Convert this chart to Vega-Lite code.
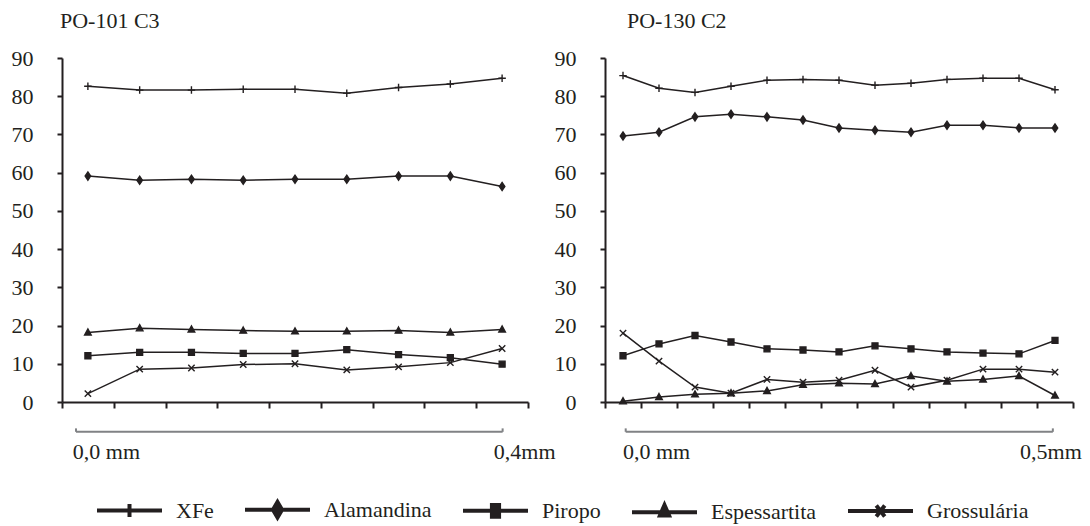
{
  "$schema": "https://vega.github.io/schema/vega-lite/v6.json",
  "background": "white",
  "padding": {"left": 11, "top": 10, "right": 5, "bottom": 0},
  "config": {
    "view": {"stroke": null},
    "font": "Liberation Serif",
    "axis": {"labelFont": "Liberation Serif", "labelFontSize": 22, "labelColor": "#231f20", "domainColor": "#231f20", "domainWidth": 2, "tickColor": "#231f20", "tickWidth": 2, "grid": false, "title": null, "labelOverlap": false},
    "legend": {"labelFont": "Liberation Serif"}
  },
  "datasets": {
    "po101": [
      {"ponto": 1, "serie": "XFe", "valor": 82.6}, {"ponto": 2, "serie": "XFe", "valor": 81.6}, {"ponto": 3, "serie": "XFe", "valor": 81.6}, {"ponto": 4, "serie": "XFe", "valor": 81.8}, {"ponto": 5, "serie": "XFe", "valor": 81.8}, {"ponto": 6, "serie": "XFe", "valor": 80.8}, {"ponto": 7, "serie": "XFe", "valor": 82.3}, {"ponto": 8, "serie": "XFe", "valor": 83.2}, {"ponto": 9, "serie": "XFe", "valor": 84.7},
      {"ponto": 1, "serie": "Alamandina", "valor": 59.1}, {"ponto": 2, "serie": "Alamandina", "valor": 58.0}, {"ponto": 3, "serie": "Alamandina", "valor": 58.3}, {"ponto": 4, "serie": "Alamandina", "valor": 58.0}, {"ponto": 5, "serie": "Alamandina", "valor": 58.3}, {"ponto": 6, "serie": "Alamandina", "valor": 58.3}, {"ponto": 7, "serie": "Alamandina", "valor": 59.1}, {"ponto": 8, "serie": "Alamandina", "valor": 59.1}, {"ponto": 9, "serie": "Alamandina", "valor": 56.4},
      {"ponto": 1, "serie": "Piropo", "valor": 12.1}, {"ponto": 2, "serie": "Piropo", "valor": 13.0}, {"ponto": 3, "serie": "Piropo", "valor": 13.0}, {"ponto": 4, "serie": "Piropo", "valor": 12.7}, {"ponto": 5, "serie": "Piropo", "valor": 12.7}, {"ponto": 6, "serie": "Piropo", "valor": 13.7}, {"ponto": 7, "serie": "Piropo", "valor": 12.4}, {"ponto": 8, "serie": "Piropo", "valor": 11.6}, {"ponto": 9, "serie": "Piropo", "valor": 9.9},
      {"ponto": 1, "serie": "Espessartita", "valor": 18.2}, {"ponto": 2, "serie": "Espessartita", "valor": 19.3}, {"ponto": 3, "serie": "Espessartita", "valor": 19.0}, {"ponto": 4, "serie": "Espessartita", "valor": 18.7}, {"ponto": 5, "serie": "Espessartita", "valor": 18.5}, {"ponto": 6, "serie": "Espessartita", "valor": 18.5}, {"ponto": 7, "serie": "Espessartita", "valor": 18.7}, {"ponto": 8, "serie": "Espessartita", "valor": 18.2}, {"ponto": 9, "serie": "Espessartita", "valor": 19.0},
      {"ponto": 1, "serie": "Grossulária", "valor": 2.2}, {"ponto": 2, "serie": "Grossulária", "valor": 8.6}, {"ponto": 3, "serie": "Grossulária", "valor": 8.9}, {"ponto": 4, "serie": "Grossulária", "valor": 9.8}, {"ponto": 5, "serie": "Grossulária", "valor": 10.0}, {"ponto": 6, "serie": "Grossulária", "valor": 8.4}, {"ponto": 7, "serie": "Grossulária", "valor": 9.2}, {"ponto": 8, "serie": "Grossulária", "valor": 10.3}, {"ponto": 9, "serie": "Grossulária", "valor": 14.0}
    ],
    "po130": [
      {"ponto": 1, "serie": "XFe", "valor": 85.4}, {"ponto": 2, "serie": "XFe", "valor": 82.1}, {"ponto": 3, "serie": "XFe", "valor": 81.0}, {"ponto": 4, "serie": "XFe", "valor": 82.6}, {"ponto": 5, "serie": "XFe", "valor": 84.2}, {"ponto": 6, "serie": "XFe", "valor": 84.4}, {"ponto": 7, "serie": "XFe", "valor": 84.2}, {"ponto": 8, "serie": "XFe", "valor": 82.9}, {"ponto": 9, "serie": "XFe", "valor": 83.4}, {"ponto": 10, "serie": "XFe", "valor": 84.4}, {"ponto": 11, "serie": "XFe", "valor": 84.7}, {"ponto": 12, "serie": "XFe", "valor": 84.7}, {"ponto": 13, "serie": "XFe", "valor": 81.7},
      {"ponto": 1, "serie": "Alamandina", "valor": 69.6}, {"ponto": 2, "serie": "Alamandina", "valor": 70.6}, {"ponto": 3, "serie": "Alamandina", "valor": 74.6}, {"ponto": 4, "serie": "Alamandina", "valor": 75.3}, {"ponto": 5, "serie": "Alamandina", "valor": 74.6}, {"ponto": 6, "serie": "Alamandina", "valor": 73.8}, {"ponto": 7, "serie": "Alamandina", "valor": 71.7}, {"ponto": 8, "serie": "Alamandina", "valor": 71.1}, {"ponto": 9, "serie": "Alamandina", "valor": 70.6}, {"ponto": 10, "serie": "Alamandina", "valor": 72.4}, {"ponto": 11, "serie": "Alamandina", "valor": 72.4}, {"ponto": 12, "serie": "Alamandina", "valor": 71.7}, {"ponto": 13, "serie": "Alamandina", "valor": 71.7},
      {"ponto": 1, "serie": "Piropo", "valor": 12.1}, {"ponto": 2, "serie": "Piropo", "valor": 15.2}, {"ponto": 3, "serie": "Piropo", "valor": 17.4}, {"ponto": 4, "serie": "Piropo", "valor": 15.7}, {"ponto": 5, "serie": "Piropo", "valor": 13.9}, {"ponto": 6, "serie": "Piropo", "valor": 13.6}, {"ponto": 7, "serie": "Piropo", "valor": 13.1}, {"ponto": 8, "serie": "Piropo", "valor": 14.7}, {"ponto": 9, "serie": "Piropo", "valor": 13.9}, {"ponto": 10, "serie": "Piropo", "valor": 13.1}, {"ponto": 11, "serie": "Piropo", "valor": 12.8}, {"ponto": 12, "serie": "Piropo", "valor": 12.6}, {"ponto": 13, "serie": "Piropo", "valor": 16.1},
      {"ponto": 1, "serie": "Espessartita", "valor": 0.2}, {"ponto": 2, "serie": "Espessartita", "valor": 1.3}, {"ponto": 3, "serie": "Espessartita", "valor": 2.0}, {"ponto": 4, "serie": "Espessartita", "valor": 2.3}, {"ponto": 5, "serie": "Espessartita", "valor": 2.9}, {"ponto": 6, "serie": "Espessartita", "valor": 4.5}, {"ponto": 7, "serie": "Espessartita", "valor": 4.9}, {"ponto": 8, "serie": "Espessartita", "valor": 4.7}, {"ponto": 9, "serie": "Espessartita", "valor": 6.8}, {"ponto": 10, "serie": "Espessartita", "valor": 5.4}, {"ponto": 11, "serie": "Espessartita", "valor": 5.9}, {"ponto": 12, "serie": "Espessartita", "valor": 6.8}, {"ponto": 13, "serie": "Espessartita", "valor": 1.7},
      {"ponto": 1, "serie": "Grossulária", "valor": 18.0}, {"ponto": 2, "serie": "Grossulária", "valor": 10.7}, {"ponto": 3, "serie": "Grossulária", "valor": 3.9}, {"ponto": 4, "serie": "Grossulária", "valor": 2.3}, {"ponto": 5, "serie": "Grossulária", "valor": 5.9}, {"ponto": 6, "serie": "Grossulária", "valor": 5.2}, {"ponto": 7, "serie": "Grossulária", "valor": 5.7}, {"ponto": 8, "serie": "Grossulária", "valor": 8.3}, {"ponto": 9, "serie": "Grossulária", "valor": 3.9}, {"ponto": 10, "serie": "Grossulária", "valor": 5.7}, {"ponto": 11, "serie": "Grossulária", "valor": 8.6}, {"ponto": 12, "serie": "Grossulária", "valor": 8.6}, {"ponto": 13, "serie": "Grossulária", "valor": 7.8}
    ]
  },
  "bounds": "flush",
  "spacing": 77,
  "hconcat": [
    {
      "width": 466,
      "height": 344,
      "title": {"text": "PO-101 C3", "anchor": "start", "frame": "group", "dx": -2, "offset": -3, "fontSize": 22, "font": "Liberation Serif", "fontWeight": "normal", "color": "#231f20", "baseline": "alphabetic"},
      "layer": [
        {
          "data": {"name": "po101"},
          "encoding": {
            "x": {"field": "ponto", "type": "quantitative", "scale": {"domain": [0.5, 9.5], "nice": false, "zero": false}, "axis": {"values": [0.5, 1.5, 2.5, 3.5, 4.5, 5.5, 6.5, 7.5, 8.5, 9.5], "labels": false, "tickSize": 6, "title": null, "grid": false}},
            "y": {"field": "valor", "type": "quantitative", "scale": {"domain": [0, 90], "nice": false, "zero": false}, "axis": {"values": [0, 10, 20, 30, 40, 50, 60, 70, 80, 90], "tickSize": 5, "labelPadding": 24, "labelFont": "Liberation Serif", "labelFontSize": 22, "labelOverlap": false, "labelColor": "#231f20", "title": null, "grid": false}}
          },
          "layer": [
            {"mark": {"type": "line", "color": "#231f20", "strokeWidth": 1.5}, "encoding": {"detail": {"field": "serie", "type": "nominal"}}},
            {"transform": [{"filter": {"field": "serie", "equal": "XFe"}}], "mark": {"type": "point", "shape": "M-1,0H1M0,-1V1", "size": 56, "filled": true, "opacity": 1, "fill": "#231f20", "stroke": "#231f20", "strokeWidth": 1.4}},
            {"transform": [{"filter": {"field": "serie", "equal": "Alamandina"}}], "mark": {"type": "point", "shape": "M0,-1.1L0.75,0L0,1.1L-0.75,0Z", "size": 56, "filled": true, "opacity": 1, "fill": "#231f20", "stroke": "#231f20", "strokeWidth": 1.3}},
            {"transform": [{"filter": {"field": "serie", "equal": "Piropo"}}], "mark": {"type": "point", "shape": "M-0.8,-0.8H0.8V0.8H-0.8Z", "size": 56, "filled": true, "opacity": 1, "fill": "#231f20", "stroke": "#231f20", "strokeWidth": 1.3}},
            {"transform": [{"filter": {"field": "serie", "equal": "Espessartita"}}], "mark": {"type": "point", "shape": "M0,-0.95L0.9,0.7H-0.9Z", "size": 56, "filled": true, "opacity": 1, "fill": "#231f20", "stroke": "#231f20", "strokeWidth": 1.3}},
            {"transform": [{"filter": {"field": "serie", "equal": "Grossulária"}}], "mark": {"type": "point", "shape": "M-0.85,-0.85L0.85,0.85M-0.85,0.85L0.85,-0.85", "size": 56, "filled": true, "opacity": 1, "fill": "#231f20", "stroke": "#231f20", "strokeWidth": 1.4}},
            {
              "mark": {"type": "point", "filled": false, "opacity": 0, "size": 4225, "color": "#231f20", "stroke": "#231f20", "strokeWidth": 4},
              "encoding": {
                "shape": {
                  "field": "serie", "type": "nominal",
                  "scale": {"domain": ["XFe", "Alamandina", "Piropo", "Espessartita", "Grossulária"], "range": ["M-1,0H1M0,-0.2V0.2", "M-1,0H1M0,-0.24L0.14,0L0,0.24L-0.14,0ZM0,-0.24V0.24", "M-1,0H1M-0.11,-0.18H0.11V0.18H-0.11ZM0,-0.18V0.18", "M-1,0H1M0,-0.22L0.14,0.1H-0.14ZM0,-0.22V0.1", "M-1,0H1M-0.13,-0.17L0.13,0.17M-0.13,0.17L0.13,-0.17"]},
                  "legend": {
                    "title": null, "orient": "none", "legendX": 33, "legendY": 417, "direction": "horizontal",
                    "symbolSize": 4225, "labelFontSize": 22, "labelFont": "Liberation Serif", "labelColor": "#231f20", "labelOffset": 12, "columnPadding": 23, "padding": 0,
                    "symbolStrokeWidth": 4, "symbolStrokeColor": "#231f20", "symbolOpacity": 1
                  }
                }
              }
            }
          ]
        },
        {
          "data": {"values": [{}]},
          "mark": {"type": "rule", "color": "#808285", "strokeWidth": 2},
          "encoding": {
            "x": {"datum": 0.77, "type": "quantitative", "axis": {"values": [0.5, 1.5, 2.5, 3.5, 4.5, 5.5, 6.5, 7.5, 8.5, 9.5], "labels": false, "tickSize": 6, "title": null, "grid": false}},
            "x2": {"datum": 9.01},
            "y": {"datum": -7.8, "type": "quantitative", "axis": {"values": [0, 10, 20, 30, 40, 50, 60, 70, 80, 90], "tickSize": 5, "labelPadding": 24, "labelFont": "Liberation Serif", "labelFontSize": 22, "labelOverlap": false, "labelColor": "#231f20", "title": null, "grid": false}}
          }
        },
        {
          "data": {"values": [{}]},
          "mark": {"type": "rule", "color": "#808285", "strokeWidth": 2},
          "encoding": {
            "x": {"datum": 0.77, "type": "quantitative", "axis": {"values": [0.5, 1.5, 2.5, 3.5, 4.5, 5.5, 6.5, 7.5, 8.5, 9.5], "labels": false, "tickSize": 6, "title": null, "grid": false}},
            "y": {"datum": -7.8, "type": "quantitative", "axis": {"values": [0, 10, 20, 30, 40, 50, 60, 70, 80, 90], "tickSize": 5, "labelPadding": 24, "labelFont": "Liberation Serif", "labelFontSize": 22, "labelOverlap": false, "labelColor": "#231f20", "title": null, "grid": false}},
            "y2": {"datum": -6.9}
          }
        },
        {
          "data": {"values": [{}]},
          "mark": {"type": "rule", "color": "#808285", "strokeWidth": 2},
          "encoding": {
            "x": {"datum": 9.01, "type": "quantitative", "axis": {"values": [0.5, 1.5, 2.5, 3.5, 4.5, 5.5, 6.5, 7.5, 8.5, 9.5], "labels": false, "tickSize": 6, "title": null, "grid": false}},
            "y": {"datum": -7.8, "type": "quantitative", "axis": {"values": [0, 10, 20, 30, 40, 50, 60, 70, 80, 90], "tickSize": 5, "labelPadding": 24, "labelFont": "Liberation Serif", "labelFontSize": 22, "labelOverlap": false, "labelColor": "#231f20", "title": null, "grid": false}},
            "y2": {"datum": -6.9}
          }
        },
        {
          "data": {"values": [{}]},
          "mark": {"type": "text", "align": "left", "baseline": "alphabetic", "fontSize": 22, "font": "Liberation Serif", "color": "#231f20"},
          "encoding": {
            "x": {"datum": 0.71, "type": "quantitative", "axis": {"values": [0.5, 1.5, 2.5, 3.5, 4.5, 5.5, 6.5, 7.5, 8.5, 9.5], "labels": false, "tickSize": 6, "title": null, "grid": false}},
            "y": {"datum": -14.9, "type": "quantitative", "axis": {"values": [0, 10, 20, 30, 40, 50, 60, 70, 80, 90], "tickSize": 5, "labelPadding": 24, "labelFont": "Liberation Serif", "labelFontSize": 22, "labelOverlap": false, "labelColor": "#231f20", "title": null, "grid": false}},
            "text": {"value": "0,0 mm"}
          }
        },
        {
          "data": {"values": [{}]},
          "mark": {"type": "text", "align": "left", "baseline": "alphabetic", "fontSize": 22, "font": "Liberation Serif", "color": "#231f20"},
          "encoding": {
            "x": {"datum": 8.84, "type": "quantitative", "axis": {"values": [0.5, 1.5, 2.5, 3.5, 4.5, 5.5, 6.5, 7.5, 8.5, 9.5], "labels": false, "tickSize": 6, "title": null, "grid": false}},
            "y": {"datum": -14.9, "type": "quantitative", "axis": {"values": [0, 10, 20, 30, 40, 50, 60, 70, 80, 90], "tickSize": 5, "labelPadding": 24, "labelFont": "Liberation Serif", "labelFontSize": 22, "labelOverlap": false, "labelColor": "#231f20", "title": null, "grid": false}},
            "text": {"value": "0,4mm"}
          }
        }
      ]
    },
    {
      "width": 468,
      "height": 344,
      "title": {"text": "PO-130 C2", "anchor": "start", "frame": "group", "dx": 22, "offset": -3, "fontSize": 22, "font": "Liberation Serif", "fontWeight": "normal", "color": "#231f20", "baseline": "alphabetic"},
      "layer": [
        {
          "data": {"name": "po130"},
          "encoding": {
            "x": {"field": "ponto", "type": "quantitative", "scale": {"domain": [0.5, 13.5], "nice": false, "zero": false}, "axis": {"values": [0.5, 1.5, 2.5, 3.5, 4.5, 5.5, 6.5, 7.5, 8.5, 9.5, 10.5, 11.5, 12.5, 13.5], "labels": false, "tickSize": 6, "title": null, "grid": false}},
            "y": {"field": "valor", "type": "quantitative", "scale": {"domain": [0, 90], "nice": false, "zero": false}, "axis": {"values": [0, 10, 20, 30, 40, 50, 60, 70, 80, 90], "tickSize": 5, "labelPadding": 24, "labelFont": "Liberation Serif", "labelFontSize": 22, "labelOverlap": false, "labelColor": "#231f20", "title": null, "grid": false}}
          },
          "layer": [
            {"mark": {"type": "line", "color": "#231f20", "strokeWidth": 1.5}, "encoding": {"detail": {"field": "serie", "type": "nominal"}}},
            {"transform": [{"filter": {"field": "serie", "equal": "XFe"}}], "mark": {"type": "point", "shape": "M-1,0H1M0,-1V1", "size": 56, "filled": true, "opacity": 1, "fill": "#231f20", "stroke": "#231f20", "strokeWidth": 1.4}},
            {"transform": [{"filter": {"field": "serie", "equal": "Alamandina"}}], "mark": {"type": "point", "shape": "M0,-1.1L0.75,0L0,1.1L-0.75,0Z", "size": 56, "filled": true, "opacity": 1, "fill": "#231f20", "stroke": "#231f20", "strokeWidth": 1.3}},
            {"transform": [{"filter": {"field": "serie", "equal": "Piropo"}}], "mark": {"type": "point", "shape": "M-0.8,-0.8H0.8V0.8H-0.8Z", "size": 56, "filled": true, "opacity": 1, "fill": "#231f20", "stroke": "#231f20", "strokeWidth": 1.3}},
            {"transform": [{"filter": {"field": "serie", "equal": "Espessartita"}}], "mark": {"type": "point", "shape": "M0,-0.95L0.9,0.7H-0.9Z", "size": 56, "filled": true, "opacity": 1, "fill": "#231f20", "stroke": "#231f20", "strokeWidth": 1.3}},
            {"transform": [{"filter": {"field": "serie", "equal": "Grossulária"}}], "mark": {"type": "point", "shape": "M-0.85,-0.85L0.85,0.85M-0.85,0.85L0.85,-0.85", "size": 56, "filled": true, "opacity": 1, "fill": "#231f20", "stroke": "#231f20", "strokeWidth": 1.4}}
          ]
        },
        {
          "data": {"values": [{}]},
          "mark": {"type": "rule", "color": "#808285", "strokeWidth": 2},
          "encoding": {
            "x": {"datum": 1.075, "type": "quantitative", "axis": {"values": [0.5, 1.5, 2.5, 3.5, 4.5, 5.5, 6.5, 7.5, 8.5, 9.5, 10.5, 11.5, 12.5, 13.5], "labels": false, "tickSize": 6, "title": null, "grid": false}},
            "x2": {"datum": 12.94},
            "y": {"datum": -7.8, "type": "quantitative", "axis": {"values": [0, 10, 20, 30, 40, 50, 60, 70, 80, 90], "tickSize": 5, "labelPadding": 24, "labelFont": "Liberation Serif", "labelFontSize": 22, "labelOverlap": false, "labelColor": "#231f20", "title": null, "grid": false}}
          }
        },
        {
          "data": {"values": [{}]},
          "mark": {"type": "rule", "color": "#808285", "strokeWidth": 2},
          "encoding": {
            "x": {"datum": 1.075, "type": "quantitative", "axis": {"values": [0.5, 1.5, 2.5, 3.5, 4.5, 5.5, 6.5, 7.5, 8.5, 9.5, 10.5, 11.5, 12.5, 13.5], "labels": false, "tickSize": 6, "title": null, "grid": false}},
            "y": {"datum": -7.8, "type": "quantitative", "axis": {"values": [0, 10, 20, 30, 40, 50, 60, 70, 80, 90], "tickSize": 5, "labelPadding": 24, "labelFont": "Liberation Serif", "labelFontSize": 22, "labelOverlap": false, "labelColor": "#231f20", "title": null, "grid": false}},
            "y2": {"datum": -6.9}
          }
        },
        {
          "data": {"values": [{}]},
          "mark": {"type": "rule", "color": "#808285", "strokeWidth": 2},
          "encoding": {
            "x": {"datum": 12.94, "type": "quantitative", "axis": {"values": [0.5, 1.5, 2.5, 3.5, 4.5, 5.5, 6.5, 7.5, 8.5, 9.5, 10.5, 11.5, 12.5, 13.5], "labels": false, "tickSize": 6, "title": null, "grid": false}},
            "y": {"datum": -7.8, "type": "quantitative", "axis": {"values": [0, 10, 20, 30, 40, 50, 60, 70, 80, 90], "tickSize": 5, "labelPadding": 24, "labelFont": "Liberation Serif", "labelFontSize": 22, "labelOverlap": false, "labelColor": "#231f20", "title": null, "grid": false}},
            "y2": {"datum": -6.9}
          }
        },
        {
          "data": {"values": [{}]},
          "mark": {"type": "text", "align": "left", "baseline": "alphabetic", "fontSize": 22, "font": "Liberation Serif", "color": "#231f20"},
          "encoding": {
            "x": {"datum": 1.0, "type": "quantitative", "axis": {"values": [0.5, 1.5, 2.5, 3.5, 4.5, 5.5, 6.5, 7.5, 8.5, 9.5, 10.5, 11.5, 12.5, 13.5], "labels": false, "tickSize": 6, "title": null, "grid": false}},
            "y": {"datum": -14.9, "type": "quantitative", "axis": {"values": [0, 10, 20, 30, 40, 50, 60, 70, 80, 90], "tickSize": 5, "labelPadding": 24, "labelFont": "Liberation Serif", "labelFontSize": 22, "labelOverlap": false, "labelColor": "#231f20", "title": null, "grid": false}},
            "text": {"value": "0,0 mm"}
          }
        },
        {
          "data": {"values": [{}]},
          "mark": {"type": "text", "align": "left", "baseline": "alphabetic", "fontSize": 22, "font": "Liberation Serif", "color": "#231f20"},
          "encoding": {
            "x": {"datum": 12.03, "type": "quantitative", "axis": {"values": [0.5, 1.5, 2.5, 3.5, 4.5, 5.5, 6.5, 7.5, 8.5, 9.5, 10.5, 11.5, 12.5, 13.5], "labels": false, "tickSize": 6, "title": null, "grid": false}},
            "y": {"datum": -14.9, "type": "quantitative", "axis": {"values": [0, 10, 20, 30, 40, 50, 60, 70, 80, 90], "tickSize": 5, "labelPadding": 24, "labelFont": "Liberation Serif", "labelFontSize": 22, "labelOverlap": false, "labelColor": "#231f20", "title": null, "grid": false}},
            "text": {"value": "0,5mm"}
          }
        }
      ]
    }
  ]
}
